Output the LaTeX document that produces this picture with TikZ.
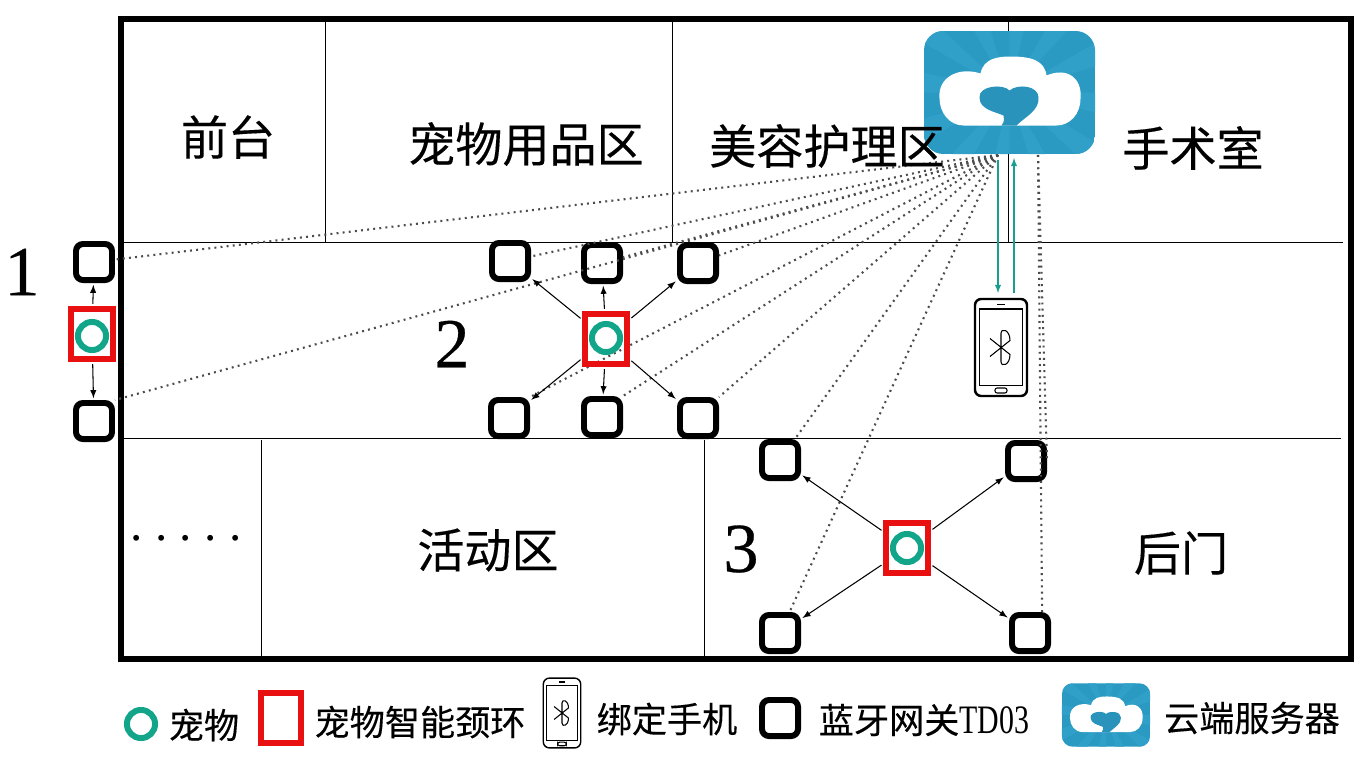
\documentclass[tikz,border=0pt]{standalone}
\usepackage{fontspec}
\setmainfont{Liberation Serif}
\newfontfamily\cjk[FakeBold=.25]{Noto Sans CJK SC}
\newfontfamily\numfont[FakeBold=.4]{Liberation Serif}
\usepackage{xcolor}
\definecolor{petgreen}{HTML}{12A58A}
\definecolor{collarred}{HTML}{E81010}
\definecolor{cloudblue}{HTML}{2A9AC2}
\definecolor{raylight}{HTML}{31A0C8}
\definecolor{heartblue}{HTML}{2A93BB}
\definecolor{phoneteal}{HTML}{1A9E8F}
\tikzset{
  >=latex,
  cloud corner/.store in=\cloudcorner,
  cloud corner=11pt,
  server/.pic={
    \begin{scope}
      \clip[rounded corners=\cloudcorner] (-85.5,-61.5) rectangle (85.5,61.5);
      \fill[cloudblue] (-85.5,-61.5) rectangle (85.5,61.5);
      \foreach \a in {0,30,...,330}
        \fill[raylight] (0,0)--(\a:130)--(\a+13:130)--cycle;
    \end{scope}
    \fill[white] (-46,33) .. controls (-60,33) and (-70,20) .. (-70,6)
      .. controls (-72,-16) and (-50,-26) .. (-29,-19)
      .. controls (-26,-34) and (-12,-36) .. (1,-36)
      .. controls (22,-36) and (35,-32) .. (37,-17)
      .. controls (58,-26) and (73,-14) .. (71,6)
      .. controls (71,22) and (60,33) .. (47,33) -- cycle;
    \fill[heartblue] (7,33) .. controls (16,24) and (30,18) .. (29,5)
      .. controls (29,-7) and (8,-9) .. (0,-2)
      .. controls (-6,-9) and (-31,-7) .. (-30,5)
      .. controls (-30,17) and (-15,19) .. (-6,23)
      .. controls (-5,26) and (-5,29) .. (-8,33) -- cycle;
  },
  phone/.pic={
    \draw[rounded corners=3.5pt] (-26,-48.5) rectangle (26,48.5);
    \draw[line width=.6pt] (-21.5,-38.5) rectangle (21.5,38);
    \draw[line width=.7pt] (-4,-43)--(4,-43);
    \draw[line width=.6pt,rounded corners=1.2pt] (-6,40.5) rectangle (6,45.5);
    \draw[line width=.6pt,line join=round] (-11,-9)--(9,7) .. controls (9,18) and (0,20) .. (0,14)
      -- (0,-14) .. controls (0,-20) and (9,-18) .. (9,-7)--(-11,9);
  },
}
\tikzstyle{every node}=[font=\fontsize{26.8pt}{30pt}\selectfont\cjk]
\tikzstyle{legend}=[font=\fontsize{20pt}{24pt}\selectfont\cjk]
\tikzstyle{number}=[font=\fontsize{40pt}{42pt}\selectfont\numfont]
\tikzstyle{gate}=[draw,line width=3.4pt,rounded corners=4pt,minimum size=20.5pt,inner sep=0pt]
\tikzstyle{collar}=[draw=collarred,line width=3.4pt,minimum width=24pt,minimum height=29pt,inner sep=0pt]
\tikzstyle{pet}=[draw=petgreen,line width=3.4pt,circle,minimum size=16pt,inner sep=0pt]
\tikzstyle{link}=[line width=.6pt,->,shorten >=1pt,shorten <=1pt]
\tikzstyle{cloudlink}=[line width=1.2pt,dash pattern=on 1.1pt off 2.4pt,black!70]
\tikzstyle{phonelink}=[line width=.6pt,->,phoneteal]
\tikzstyle{wall}=[line width=.5pt]

\begin{document}
\begin{tikzpicture}[x=.02cm,y=-.02cm]
  \useasboundingbox (0,0) rectangle (1366,768);
  \draw[wall] (121,242)--(1343,242);
  \draw[wall] (121,438)--(1341,438);
  \draw[wall] (325,19)--(325,242);
  \draw[wall] (672,19)--(672,242);
  \draw[wall] (1008,19)--(1008,242);
  \draw[wall] (261,440)--(261,659);
  \draw[wall] (704,440)--(704,662);
  \draw[line width=3.4pt] (121,19) rectangle (1351,659);

  \node[gate] (g1a) at (94,262) {};
  \node[gate] (g1b) at (94,421) {};
  \node[gate] (g2a) at (510,261) {};
  \node[gate] (g2b) at (602,263) {};
  \node[gate] (g2c) at (698,263) {};
  \node[gate] (g2d) at (509,418) {};
  \node[gate] (g2e) at (602,417) {};
  \node[gate] (g2f) at (698,418) {};
  \node[gate] (g3a) at (780,460) {};
  \node[gate] (g3b) at (1026,461) {};
  \node[gate] (g3c) at (780,633) {};
  \node[gate] (g3d) at (1030,633) {};

  \coordinate (hub) at (998,155);
  \coordinate (hubr) at (1038,155);
  \foreach \g in {g1a,g2a,g2b,g2c,g3a,g3c}
    \draw[cloudlink] (hub)--(\g);
  \foreach \g in {g1b,g2d,g2e,g2f}
    \draw[cloudlink] (hub)--(\g.north east);
  \draw[cloudlink] (hubr)--(g3b.east);
  \draw[cloudlink] (hubr)--(g3d.60);

  \pic at (1009.5,92.5) {server};
  \pic[line width=1.4pt] at (1001,347.5) {phone};

  \coordinate (downa) at (998,160);
  \coordinate (downb) at (998,293);
  \coordinate (upa) at (1014,293);
  \coordinate (upb) at (1014,158);
  \draw[phonelink] (downa)--(downb);
  \draw[phonelink] (upa)--(upb);

  \node[collar] (c1) at (92,334) {};
  \node[collar] (c2) at (606,339) {};
  \node[collar] (c3) at (907,548) {};
  \node[pet] (p1) at (92,336) {};
  \node[pet] (p2) at (606,338) {};
  \node[pet] (p3) at (907,548) {};

  \foreach \g in {g1a,g1b}
    \draw[link] (c1)--(\g);
  \foreach \g in {g2a,g2b,g2c,g2d,g2e,g2f}
    \draw[link] (c2)--(\g);
  \foreach \g in {g3a,g3b,g3c,g3d}
    \draw[link] (c3)--(\g);

  \node (desk) at (228,137) {前台};
  \node (goods) at (526,144) {宠物用品区};
  \node (care) at (827,146) {美容护理区};
  \node (surgery) at (1193,148) {手术室};
  \node (play) at (488,550) {活动区};
  \node (backdoor) at (1181,553) {后门};
  \node[number] (n1) at (22,272) {1};
  \node[number] (n2) at (452,344) {2};
  \node[number] (n3) at (741,549) {3};
  \node[font=\fontsize{28pt}{30pt}\selectfont\rmfamily\frenchspacing] (more) at (186,538) {. . . . .};

  \node[pet] (lpet) at (141,724) {};
  \node[legend] (lpettext) at (204,725) {宠物};
  \node[collar,minimum width=23pt,minimum height=28pt] (lcollar) at (281,718) {};
  \node[legend] (lcollartext) at (420,722) {宠物智能颈环};
  \pic[scale=.72,line width=.8pt] at (562,713) {phone};
  \node[legend] (lphonetext) at (667,719) {绑定手机};
  \node[gate] (lgate) at (780,718) {};
  \node[legend] (lgatetext) at (924,720) {蓝牙网关{\rmfamily\fontsize{23pt}{24pt}\selectfont\scalebox{.74}[1]{TD03}}};
  \pic[scale=.515,cloud corner=6pt] at (1106,715) {server};
  \node[legend] (lservertext) at (1252,718) {云端服务器};
\end{tikzpicture}
\end{document}
